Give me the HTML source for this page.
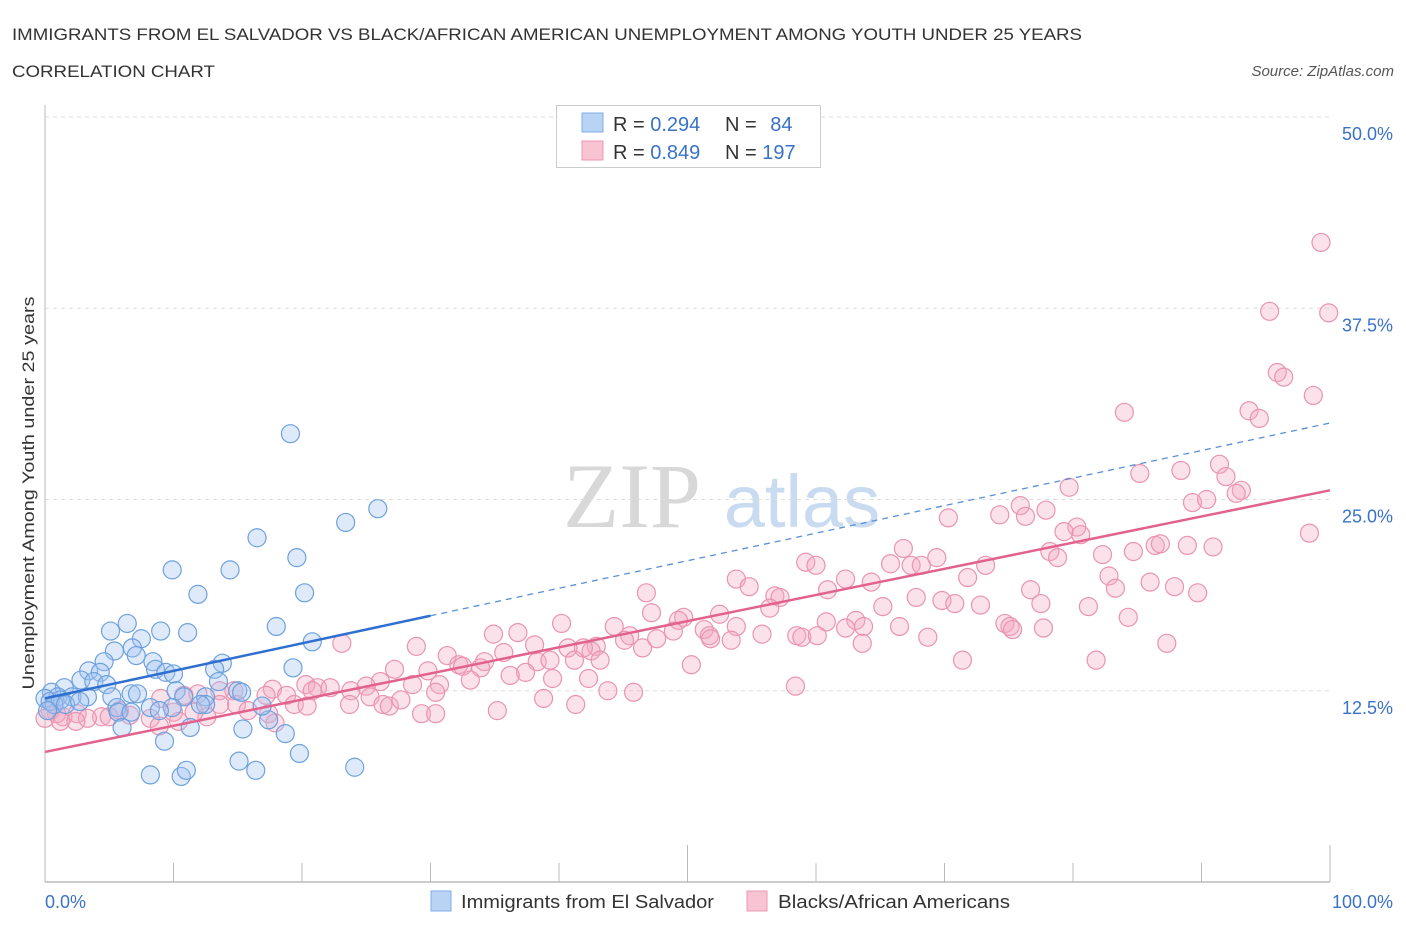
<!DOCTYPE html>
<html><head><meta charset="utf-8"><style>
body{margin:0;background:#fff;font-family:"Liberation Sans",sans-serif;}
svg{display:block}
</style></head><body>
<svg id="chart" width="1406" height="930">
<text x="12" y="40" font-size="17" fill="#333" textLength="1070" lengthAdjust="spacingAndGlyphs">IMMIGRANTS FROM EL SALVADOR VS BLACK/AFRICAN AMERICAN UNEMPLOYMENT AMONG YOUTH UNDER 25 YEARS</text>
<text x="12" y="77" font-size="17" fill="#333" textLength="203" lengthAdjust="spacingAndGlyphs">CORRELATION CHART</text>
<text x="1394" y="76" font-size="15" fill="#555" font-style="italic" text-anchor="end">Source: ZipAtlas.com</text>
<g>
<text x="632" y="527" font-size="92" font-family="Liberation Serif,serif" fill="#d8d8d8" text-anchor="middle">ZIP</text>
<text x="802" y="527" font-size="74" fill="#c9dbf0" text-anchor="middle">atlas</text>
</g>
<g id="grid"></g>
<g id="axes"></g>
<g id="pts"></g>
<g id="lines"></g>
<text transform="translate(34,493) rotate(-90)" font-size="17" fill="#333" text-anchor="middle" textLength="393" lengthAdjust="spacingAndGlyphs">Unemployment Among Youth under 25 years</text>
<g>
<rect x="556.5" y="105.5" width="264" height="62" fill="#fff" stroke="#ccc"/>
<rect x="582" y="113" width="21" height="19" fill="#b9d3f5" stroke="#80aee6"/>
<rect x="582" y="141" width="21" height="19" fill="#f8c3d3" stroke="#ec9ab4"/>
<text x="613" y="131" font-size="20" fill="#333">R = <tspan fill="#3a72c8">0.294</tspan></text>
<text x="725" y="131" font-size="20" fill="#333">N = <tspan fill="#3a72c8" dx="8">84</tspan></text>
<text x="613" y="159" font-size="20" fill="#333">R = <tspan fill="#3a72c8">0.849</tspan></text>
<text x="725" y="159" font-size="20" fill="#333">N = <tspan fill="#3a72c8">197</tspan></text>
</g>
<g>
<rect x="431" y="891" width="20" height="20" fill="#b9d3f5" stroke="#80aee6"/>
<text x="461" y="908" font-size="18" fill="#333" textLength="253" lengthAdjust="spacingAndGlyphs">Immigrants from El Salvador</text>
<rect x="747" y="891" width="20" height="20" fill="#f8c3d3" stroke="#ec9ab4"/>
<text x="778" y="908" font-size="18" fill="#333" textLength="232" lengthAdjust="spacingAndGlyphs">Blacks/African Americans</text>
</g>
</svg>
<script>
const yTicks=[12.5,25,37.5,50];
const yTickLabels=["12.5%","25.0%","37.5%","50.0%"];
const xTickLabels=["0.0%","100.0%"];
const blueX=[19.1,25.9,23.4,16.5,19.6,9.9,14.4,11.9,20.2,18.0,5.1,6.4,9.0,11.1,7.5,20.8,6.8,5.4,7.1,8.4,4.6,19.3,13.8,8.6,9.4,10.0,13.2,3.4,4.3,2.8,3.8,13.5,4.8,1.5,10.2,15.0,15.3,6.7,5.2,7.2,10.8,12.5,0.5,1.0,2.1,3.3,0,0.4,1.2,5.6,8.2,9.9,5.7,6.7,12.5,6.0,11.3,15.4,17.4,18.7,9.3,19.8,15.1,8.2,10.6,11.0,16.4,24.1,0.7,0.2,1.6,2.7,8.9,12.1,16.9];
const blueY=[29.3,24.4,23.5,22.5,21.2,20.4,20.4,18.8,18.9,16.7,16.4,16.9,16.4,16.3,15.9,15.7,15.3,15.1,14.8,14.4,14.4,14.0,14.3,13.9,13.7,13.6,13.9,13.8,13.7,13.2,13.1,13.1,12.9,12.7,12.5,12.5,12.4,12.3,12.1,12.3,12.1,12.1,12.4,12.1,12.1,12.1,12.0,11.8,11.9,11.4,11.4,11.4,11.1,11.1,11.6,10.1,10.1,10.0,10.6,9.7,9.2,8.4,7.9,7.0,6.9,7.3,7.3,7.5,11.6,11.2,11.6,11.8,11.2,11.6,11.5];
const pinkX=[99.3,95.3,99.9,95.9,96.4,98.7,84.0,93.7,94.5,91.4,85.2,88.4,91.9,93.1,79.7,75.9,89.3,90.4,92.7,70.3,74.3,76.3,77.9,80.3,80.6,79.3,98.4,86.4,86.8,88.9,90.9,84.7,78.2,66.8,69.4,82.3,78.8,65.8,59.2,60.0,67.4,68.2,73.2,71.8,82.8,53.8,54.8,62.3,64.3,83.3,86.0,87.9,76.7,89.7,46.8,56.8,57.2,60.9,67.8,69.8,70.8,72.8,77.5,81.2,47.2,56.4,52.5,49.7,49.3,40.2,44.3,53.8,63.1,65.2,60.8,66.5,62.3,63.7,84.3,74.7,75.1,51.3,51.7,48.9,47.6,45.5,45.1,46.5,42.9,42.5,41.9,40.7,34.9,36.8,38.1,51.8,55.8,58.5,58.9,53.4,60.1,63.6,68.7,87.3,75.3,77.7,28.9,23.1,31.3,32.2,32.5,34.2,35.7,38.3,39.3,41.2,43.2,50.3,81.8,71.4,33.9,37.4,39.5,42.3,36.2,27.2,29.8,33.1,30.7,26.1,25.0,28.6,25.3,20.3,21.2,22.2,23.8,20.8,17.7,17.2,18.8,14.7,13.6,11.9,10.8,9.0,14.9,15.8,17.4,19.4,20.4,26.3,26.8,27.7,30.4,23.7,38.8,41.3,35.2,43.8,45.8,58.4,29.3,30.4,10.0,12.6,17.9,13.6,8.2,5.8,4.4,2.5,3.3,1.4,0.9,0.4,1.2,2.4,6.6,8.9,10.4,0,5.0,11.6];
const pinkY=[41.8,37.3,37.2,33.3,33.0,31.8,30.7,30.8,30.3,27.3,26.7,26.9,26.5,25.6,25.8,24.6,24.8,25.0,25.4,23.8,24.0,23.9,24.3,23.2,22.7,22.9,22.8,22.0,22.1,22.0,21.9,21.6,21.6,21.8,21.2,21.4,21.2,20.8,20.9,20.7,20.7,20.7,20.7,19.9,20.0,19.8,19.3,19.8,19.6,19.2,19.6,19.3,19.1,18.9,18.9,18.7,18.6,19.1,18.6,18.4,18.2,18.1,18.2,18.0,17.6,17.9,17.5,17.3,17.1,16.9,16.7,16.7,17.1,18.0,17.0,16.7,16.6,16.7,17.3,16.9,16.7,16.5,16.1,16.4,15.9,16.1,15.8,15.3,15.4,15.1,15.3,15.3,16.2,16.3,15.5,15.9,16.2,16.1,16.0,15.8,16.1,15.6,16.0,15.6,16.5,16.6,15.4,15.6,14.8,14.2,14.1,14.4,15.0,14.4,14.5,14.5,14.5,14.2,14.5,14.5,14.0,13.7,13.3,13.3,13.5,13.9,13.8,13.2,12.9,13.1,12.8,12.9,12.1,12.9,12.7,12.7,12.5,12.5,12.6,12.2,12.2,12.5,12.5,12.3,12.2,12.0,11.6,11.2,11.0,11.6,11.5,11.6,11.5,11.9,12.4,11.6,12.0,11.6,11.2,12.5,12.4,12.8,11.0,11.0,11.1,10.8,10.4,11.6,10.7,11.2,10.8,11.0,10.7,10.8,11.0,11.2,10.5,10.5,10.9,10.2,10.5,10.7,10.8,11.1];
const blueTrend=[12.0,0.18];
const pinkTrend=[8.5,0.171];
const X0=45,X1=1330,Y0=882,Y50=117;
const xs=v=>X0+(X1-X0)*v/100;
const ys=v=>Y0-(Y0-Y50)*v/50;
const NS="http://www.w3.org/2000/svg";
function mk(tag,attrs,parent){const e=document.createElementNS(NS,tag);for(const k in attrs)e.setAttribute(k,attrs[k]);document.getElementById(parent).appendChild(e);return e;}
yTicks.forEach((t,i)=>{
 const g=mk('line',{x1:X0,x2:1330,y1:ys(t),y2:ys(t),stroke:'#ddd','stroke-dasharray':'4,4'},'grid');
 
 
 const l=mk('text',{x:1393,y:ys(t)+23,'font-size':18,fill:'#3a72c8','text-anchor':'end'},'axes');
 l.textContent=yTickLabels[i];
 
 
});
let a=mk('line',{x1:X0,x2:X0,y1:105,y2:Y0,stroke:'#bbb'},'axes');


a=mk('line',{x1:X0,x2:1330,y1:Y0,y2:Y0,stroke:'#bbb','stroke-width':1.5},'axes');


for(let i=0;i<=10;i++){
 const t=mk('line',{x1:xs(i*10),x2:xs(i*10),y1:(i==5||i==10)?845:863,y2:Y0,stroke:'#bbb'},'axes');
 
 
}
[[0,'start',45],[100,'end',1393]].forEach((d,i)=>{
 const l=mk('text',{x:d[2],y:908,'font-size':18,fill:'#3a72c8','text-anchor':d[1]},'axes');
 l.textContent=xTickLabels[i];
 
 
});
pinkX.forEach((x,i)=>{
 const c=mk('circle',{cx:xs(x),cy:ys(pinkY[i]),r:9,fill:'rgba(244,170,194,0.35)',stroke:'#ea94b0','stroke-width':1.2},'pts');
 
 
});
blueX.forEach((x,i)=>{
 const c=mk('circle',{cx:xs(x),cy:ys(blueY[i]),r:9,fill:'rgba(160,196,240,0.35)',stroke:'#6da1de','stroke-width':1.2},'pts');
 
 
});
let l=mk('line',{x1:xs(0),y1:ys(blueTrend[0]),x2:xs(30),y2:ys(blueTrend[0]+30*blueTrend[1]),stroke:'#2f6fd0','stroke-width':2.5},'lines');


l=mk('line',{x1:xs(30),y1:ys(blueTrend[0]+30*blueTrend[1]),x2:xs(100),y2:ys(blueTrend[0]+100*blueTrend[1]),stroke:'#5b8fd8','stroke-width':1.3,'stroke-dasharray':'6,5'},'lines');


l=mk('line',{x1:xs(0),y1:ys(pinkTrend[0]),x2:xs(100),y2:ys(pinkTrend[0]+100*pinkTrend[1]),stroke:'#e2628e','stroke-width':2.5},'lines');


</script>
</body></html>
